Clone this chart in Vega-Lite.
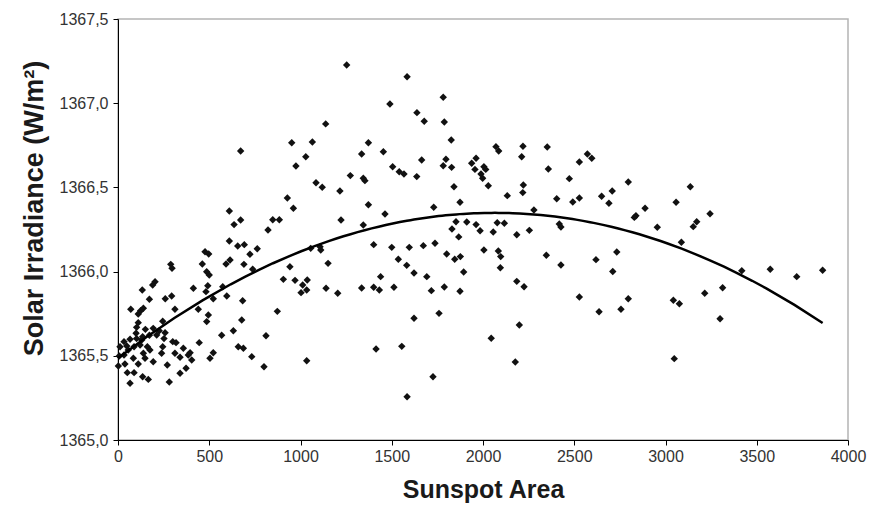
{
  "$schema": "https://vega.github.io/schema/vega-lite/v6.json",
  "width": 730,
  "height": 421,
  "autosize": {"type": "none"},
  "padding": {"left": 118, "top": 19, "right": 23, "bottom": 65},
  "background": "white",
  "config": {
    "view": {"stroke": "#b4b4b4", "strokeWidth": 1.5},
    "axis": {
      "grid": false,
      "domainColor": "#000000",
      "domainWidth": 1,
      "tickColor": "#000000",
      "tickSize": 5,
      "labelFlush": false,
      "labelOverlap": false,
      "labelFont": "Liberation Sans",
      "labelFontSize": 16,
      "labelColor": "#333333",
      "titleFont": "Liberation Sans",
      "titleFontSize": 25,
      "titleFontWeight": "bold",
      "titleColor": "#1a1a1a"
    }
  },
  "data": {
    "values": [
      {"area": 672, "irr": 1366.716}, {"area": 952, "irr": 1366.765}, {"area": 928, "irr": 1366.437},
      {"area": 610, "irr": 1366.360}, {"area": 636, "irr": 1366.279}, {"area": 672, "irr": 1366.306},
      {"area": 848, "irr": 1366.308}, {"area": 884, "irr": 1366.308}, {"area": 822, "irr": 1366.247},
      {"area": 610, "irr": 1366.182}, {"area": 656, "irr": 1366.152}, {"area": 692, "irr": 1366.160},
      {"area": 763, "irr": 1366.136}, {"area": 477, "irr": 1366.118}, {"area": 497, "irr": 1366.105},
      {"area": 723, "irr": 1366.103}, {"area": 289, "irr": 1366.043}, {"area": 296, "irr": 1366.020},
      {"area": 462, "irr": 1366.045}, {"area": 592, "irr": 1366.045}, {"area": 614, "irr": 1366.069},
      {"area": 690, "irr": 1366.043}, {"area": 738, "irr": 1366.014}, {"area": 486, "irr": 1365.999},
      {"area": 500, "irr": 1365.980}, {"area": 942, "irr": 1366.029}, {"area": 906, "irr": 1365.954},
      {"area": 970, "irr": 1365.948}, {"area": 1012, "irr": 1365.920}, {"area": 1037, "irr": 1365.950},
      {"area": 1034, "irr": 1365.891}, {"area": 1003, "irr": 1365.875}, {"area": 203, "irr": 1365.940},
      {"area": 190, "irr": 1365.920}, {"area": 133, "irr": 1365.891}, {"area": 413, "irr": 1365.901},
      {"area": 492, "irr": 1365.916}, {"area": 482, "irr": 1365.881}, {"area": 574, "irr": 1365.910},
      {"area": 294, "irr": 1365.855}, {"area": 259, "irr": 1365.839}, {"area": 172, "irr": 1365.836},
      {"area": 522, "irr": 1365.839}, {"area": 596, "irr": 1365.855}, {"area": 683, "irr": 1365.827},
      {"area": 70, "irr": 1365.776}, {"area": 124, "irr": 1365.768}, {"area": 139, "irr": 1365.782},
      {"area": 312, "irr": 1365.776}, {"area": 440, "irr": 1365.776}, {"area": 873, "irr": 1365.764},
      {"area": 111, "irr": 1365.748}, {"area": 495, "irr": 1365.742}, {"area": 486, "irr": 1365.703},
      {"area": 678, "irr": 1365.713}, {"area": 245, "irr": 1365.705}, {"area": 111, "irr": 1365.697},
      {"area": 102, "irr": 1365.669}, {"area": 150, "irr": 1365.657}, {"area": 193, "irr": 1365.663},
      {"area": 226, "irr": 1365.649}, {"area": 99, "irr": 1365.634}, {"area": 135, "irr": 1365.613},
      {"area": 172, "irr": 1365.622}, {"area": 212, "irr": 1365.624}, {"area": 258, "irr": 1365.637},
      {"area": 252, "irr": 1365.602}, {"area": 632, "irr": 1365.649}, {"area": 568, "irr": 1365.622},
      {"area": 811, "irr": 1365.619}, {"area": 66, "irr": 1365.598}, {"area": 102, "irr": 1365.602},
      {"area": 130, "irr": 1365.594}, {"area": 300, "irr": 1365.584}, {"area": 318, "irr": 1365.578},
      {"area": 445, "irr": 1365.578}, {"area": 33, "irr": 1365.584}, {"area": 48, "irr": 1365.558},
      {"area": 11, "irr": 1365.554}, {"area": 56, "irr": 1365.534}, {"area": 88, "irr": 1365.554},
      {"area": 121, "irr": 1365.564}, {"area": 161, "irr": 1365.554}, {"area": 245, "irr": 1365.554},
      {"area": 358, "irr": 1365.545}, {"area": 395, "irr": 1365.518}, {"area": 659, "irr": 1365.554},
      {"area": 687, "irr": 1365.545}, {"area": 522, "irr": 1365.518}, {"area": 175, "irr": 1365.534},
      {"area": 139, "irr": 1365.515}, {"area": 239, "irr": 1365.515}, {"area": 312, "irr": 1365.515},
      {"area": 385, "irr": 1365.505}, {"area": 33, "irr": 1365.505}, {"area": 7, "irr": 1365.499},
      {"area": 84, "irr": 1365.485}, {"area": 148, "irr": 1365.485}, {"area": 193, "irr": 1365.465},
      {"area": 340, "irr": 1365.491}, {"area": 404, "irr": 1365.475}, {"area": 504, "irr": 1365.485},
      {"area": 733, "irr": 1365.495}, {"area": 1034, "irr": 1365.471}, {"area": 2, "irr": 1365.439},
      {"area": 38, "irr": 1365.451}, {"area": 111, "irr": 1365.451}, {"area": 270, "irr": 1365.445},
      {"area": 373, "irr": 1365.426}, {"area": 340, "irr": 1365.396}, {"area": 800, "irr": 1365.435},
      {"area": 51, "irr": 1365.400}, {"area": 88, "irr": 1365.400}, {"area": 135, "irr": 1365.376},
      {"area": 166, "irr": 1365.360}, {"area": 66, "irr": 1365.337}, {"area": 281, "irr": 1365.344},
      {"area": 1029, "irr": 1366.682}, {"area": 975, "irr": 1366.627}, {"area": 1335, "irr": 1366.698},
      {"area": 1454, "irr": 1366.712}, {"area": 1085, "irr": 1366.528}, {"area": 1119, "irr": 1366.501},
      {"area": 1273, "irr": 1366.570}, {"area": 1344, "irr": 1366.554}, {"area": 1353, "irr": 1366.540},
      {"area": 1216, "irr": 1366.479}, {"area": 961, "irr": 1366.376}, {"area": 1372, "irr": 1366.397},
      {"area": 1463, "irr": 1366.342}, {"area": 1222, "irr": 1366.306}, {"area": 1344, "irr": 1366.277},
      {"area": 1505, "irr": 1366.623}, {"area": 1541, "irr": 1366.593}, {"area": 1567, "irr": 1366.580},
      {"area": 1637, "irr": 1366.564}, {"area": 1664, "irr": 1366.663}, {"area": 1797, "irr": 1366.667},
      {"area": 1782, "irr": 1366.629}, {"area": 1828, "irr": 1366.619}, {"area": 1938, "irr": 1366.643},
      {"area": 1962, "irr": 1366.673}, {"area": 1956, "irr": 1366.607}, {"area": 2005, "irr": 1366.623},
      {"area": 2015, "irr": 1366.607}, {"area": 1989, "irr": 1366.580}, {"area": 1998, "irr": 1366.554},
      {"area": 2029, "irr": 1366.510}, {"area": 1841, "irr": 1366.504}, {"area": 2086, "irr": 1366.716},
      {"area": 2071, "irr": 1366.742}, {"area": 2212, "irr": 1366.682}, {"area": 2221, "irr": 1366.514},
      {"area": 2218, "irr": 1366.469}, {"area": 2133, "irr": 1366.451}, {"area": 1874, "irr": 1366.412},
      {"area": 1730, "irr": 1366.382}, {"area": 1852, "irr": 1366.296}, {"area": 1911, "irr": 1366.295},
      {"area": 1830, "irr": 1366.253}, {"area": 1867, "irr": 1366.206}, {"area": 1962, "irr": 1366.279},
      {"area": 1984, "irr": 1366.243}, {"area": 2056, "irr": 1366.235}, {"area": 2078, "irr": 1366.290},
      {"area": 2117, "irr": 1366.287}, {"area": 2185, "irr": 1366.219}, {"area": 2254, "irr": 1366.245},
      {"area": 1056, "irr": 1366.138}, {"area": 1107, "irr": 1366.148}, {"area": 1111, "irr": 1366.128},
      {"area": 1151, "irr": 1366.049}, {"area": 1401, "irr": 1366.160}, {"area": 1500, "irr": 1366.144},
      {"area": 1596, "irr": 1366.144}, {"area": 1673, "irr": 1366.154}, {"area": 1737, "irr": 1366.168},
      {"area": 1536, "irr": 1366.073}, {"area": 1582, "irr": 1366.037}, {"area": 1622, "irr": 1365.992},
      {"area": 1692, "irr": 1365.970}, {"area": 1801, "irr": 1366.105}, {"area": 1845, "irr": 1366.073},
      {"area": 1876, "irr": 1366.089}, {"area": 1894, "irr": 1365.998}, {"area": 2005, "irr": 1366.128},
      {"area": 2084, "irr": 1366.122}, {"area": 2097, "irr": 1366.089}, {"area": 2095, "irr": 1366.023},
      {"area": 1140, "irr": 1365.901}, {"area": 1204, "irr": 1365.871}, {"area": 1335, "irr": 1365.903},
      {"area": 1401, "irr": 1365.907}, {"area": 1432, "irr": 1365.891}, {"area": 1512, "irr": 1365.907},
      {"area": 1439, "irr": 1365.970}, {"area": 1717, "irr": 1365.887}, {"area": 1788, "irr": 1365.909},
      {"area": 1874, "irr": 1365.883}, {"area": 2185, "irr": 1365.942}, {"area": 2225, "irr": 1365.910},
      {"area": 1622, "irr": 1365.723}, {"area": 1759, "irr": 1365.752}, {"area": 2199, "irr": 1365.683},
      {"area": 2045, "irr": 1365.604}, {"area": 1414, "irr": 1365.540}, {"area": 1555, "irr": 1365.556},
      {"area": 2177, "irr": 1365.463}, {"area": 1726, "irr": 1365.376}, {"area": 1584, "irr": 1365.257},
      {"area": 1253, "irr": 1367.227}, {"area": 1584, "irr": 1367.157}, {"area": 1782, "irr": 1367.035},
      {"area": 1490, "irr": 1366.995}, {"area": 1638, "irr": 1366.944}, {"area": 1678, "irr": 1366.893},
      {"area": 1788, "irr": 1366.888}, {"area": 1138, "irr": 1366.877}, {"area": 1065, "irr": 1366.770},
      {"area": 1372, "irr": 1366.765}, {"area": 1826, "irr": 1366.781},
      {"area": 2219, "irr": 1366.744}, {"area": 2352, "irr": 1366.740}, {"area": 2358, "irr": 1366.609},
      {"area": 2528, "irr": 1366.651}, {"area": 2572, "irr": 1366.698}, {"area": 2596, "irr": 1366.673},
      {"area": 2473, "irr": 1366.552}, {"area": 2796, "irr": 1366.532}, {"area": 2404, "irr": 1366.433},
      {"area": 2492, "irr": 1366.413}, {"area": 2528, "irr": 1366.437}, {"area": 2650, "irr": 1366.447},
      {"area": 2708, "irr": 1366.479}, {"area": 2690, "irr": 1366.406}, {"area": 3136, "irr": 1366.504},
      {"area": 3058, "irr": 1366.412}, {"area": 2888, "irr": 1366.376}, {"area": 2838, "irr": 1366.332},
      {"area": 2829, "irr": 1366.322}, {"area": 3244, "irr": 1366.344}, {"area": 3171, "irr": 1366.296},
      {"area": 3152, "irr": 1366.267}, {"area": 2955, "irr": 1366.263}, {"area": 2279, "irr": 1366.366},
      {"area": 2418, "irr": 1366.283}, {"area": 2427, "irr": 1366.265}, {"area": 3087, "irr": 1366.174},
      {"area": 2347, "irr": 1366.097}, {"area": 2427, "irr": 1366.039}, {"area": 2619, "irr": 1366.071},
      {"area": 2733, "irr": 1366.116}, {"area": 2711, "irr": 1366.001}, {"area": 3418, "irr": 1366.005},
      {"area": 2528, "irr": 1365.849}, {"area": 2796, "irr": 1365.839}, {"area": 2636, "irr": 1365.762},
      {"area": 2756, "irr": 1365.776}, {"area": 3043, "irr": 1365.830}, {"area": 3076, "irr": 1365.809},
      {"area": 3215, "irr": 1365.871}, {"area": 3313, "irr": 1365.904}, {"area": 3299, "irr": 1365.720},
      {"area": 3048, "irr": 1365.483}, {"area": 3574, "irr": 1366.014}, {"area": 3719, "irr": 1365.970},
      {"area": 3861, "irr": 1366.008}
    ]
  },
  "encoding": {
    "x": {
      "field": "area",
      "type": "quantitative",
      "scale": {"domain": [0, 4000], "nice": false, "zero": false},
      "axis": {
        "title": "Sunspot Area",
        "values": [0, 500, 1000, 1500, 2000, 2500, 3000, 3500, 4000],
        "format": "d",
        "labelPadding": 3,
        "titlePadding": 13
      }
    },
    "y": {
      "field": "irr",
      "type": "quantitative",
      "scale": {"domain": [1365, 1367.5], "nice": false, "zero": false},
      "axis": {
        "title": "Solar Irradiance (W/m²)",
        "titleFontSize": 27,
        "titleY": 189,
        "values": [1365, 1365.5, 1366, 1366.5, 1367, 1367.5],
        "labelExpr": "replace(format(datum.value, '.1f'), '.', ',')",
        "labelPadding": 5,
        "titlePadding": 11
      }
    }
  },
  "layer": [
    {
      "mark": {"type": "point", "shape": "diamond", "filled": true, "size": 55, "color": "#111111", "opacity": 1}
    },
    {
      "transform": [
        {"regression": "irr", "on": "area", "method": "poly", "order": 2, "extent": [0, 3861]}
      ],
      "mark": {"type": "line", "color": "#000000", "strokeWidth": 2.5}
    }
  ]
}
